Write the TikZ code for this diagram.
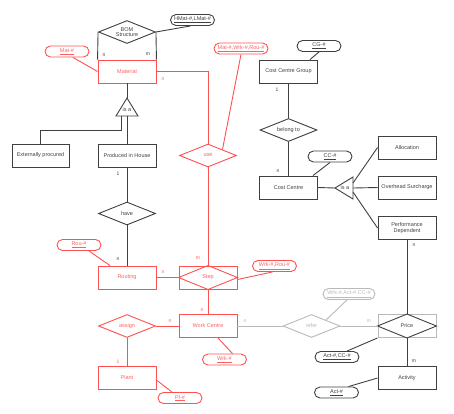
\documentclass[tikz,border=0pt]{standalone}
\usepackage{fontspec}
\setmainfont{Liberation Sans}
\usetikzlibrary{shapes.geometric}
\definecolor{rd}{RGB}{255,80,80}
\definecolor{rdt}{RGB}{255,95,95}
\definecolor{dk}{RGB}{64,64,64}
\definecolor{lg}{RGB}{185,185,185}
\begin{document}
\begin{tikzpicture}[x=1pt,y=-1pt,
  font=\fontsize{5.5}{6.5}\selectfont,
  ent/.style={draw, rectangle, minimum width=58pt, minimum height=23pt, inner sep=1pt, align=center, line width=0.9pt},
  rel/.style={draw, diamond, aspect=2.5, minimum width=57pt, minimum height=23pt, inner sep=0pt, align=center, line width=0.9pt},
  attr/.style={draw, rectangle, rounded corners=5.5pt, minimum width=44pt, minimum height=11pt, inner sep=1pt, line width=0.9pt},
  lbl/.style={font=\fontsize{5}{6}\selectfont, inner sep=0pt},
  cB/.style={draw=dk, text=dk},
  cR/.style={draw=rd, text=rdt},
  cG/.style={draw=lg, text=lg},
  con/.style={line width=0.9pt},
]
\useasboundingbox (0,0) rectangle (454,413);

% ---------- left (material) part ----------
\node[ent,cR] (mat) at (127,71.5) {Material};
\node[rel,cB] (bom) at (127,32) {BOM\\[-1pt]Structure};
\node[attr,cB] (hmat) at (192.5,20) {\underline{HMat-\#,LMat-\#}};
\node[attr,cR] (matid) at (67,51.5) {\underline{Mat-\#}};
\node[attr,cR,minimum width=54pt] (mwr) at (241,48.5) {\underline{Mat-\#,Wrk-\#,Rou-\#}};

\draw[con,dk] (bom.west) -- (mat.north west);
\draw[con,dk] (bom.east) -- (mat.north east);
\draw[con,dk] (bom.east) -- ([xshift=-2pt]hmat.south);
\node[lbl,text=dk] (lbn1) at (104,55) {n};
\node[lbl,text=dk] (lbm1) at (148,54) {m};
\draw[con,rd] ([xshift=6pt]matid.south) -- (mat.west);

% is a (material)
\coordinate (isa1) at (127,98);
\coordinate (isa1b) at (127,116);
\coordinate (isa1c) at (121,116);
\draw[con,dk] (isa1) -- (138,116) -- (116,116) -- cycle;
\node[text=dk,inner sep=0pt] (isa1t) at (127,110) {is a};
\draw[con,dk] (mat.south) -- (isa1);

\node[ent,cB,minimum width=57pt] (ext) at (40.5,155.5) {Externally procured};
\node[ent,cB] (pih) at (127,155.5) {Produced in House};
\draw[con,dk] (isa1b) -- (pih.north);
\draw[con,dk] (isa1c) -- (121,130) -| (ext.north);
\node[lbl,text=dk] (lb1a) at (118,174) {1};

\node[rel,cB] (have) at (127,213.5) {have};
\draw[con,dk] (pih.south) -- (have.north);

\node[ent,cR] (rout) at (127,277.5) {Routing};
\draw[con,dk] (have.south) -- (rout.north);
\node[lbl,text=dk] (lbn2) at (118,259) {n};
\node[attr,cR] (rou) at (79,245) {\underline{Rou-\#}};
\draw[con,rd] ([xshift=10pt]rou.south) -- ([xshift=-17pt]rout.north);

% use
\node[rel,cR] (use) at (208,155.5) {use};
\draw[con,rd] (mat.east) -| (use.north);
\node[lbl,text=rdt] (lbn3) at (163,79) {n};
\draw[con,rd] (mwr.south) -- (use.north east);

% step
\node[ent,cR,minimum width=58pt] (step) at (208,277.5) {Step};
\draw[con,rd] (step.north) -- (step.east) -- (step.south) -- (step.west) -- cycle;
\draw[con,rd] (use.south) -- (step.north);
\node[lbl,text=rdt] (lbm2) at (198,258) {m};
\draw[con,rd] (rout.east) -- (step.west);
\node[lbl,text=rdt] (lbn4) at (163,272) {n};
\node[attr,cR] (wr) at (274.5,266) {\underline{Wrk-\#,Rou-\#}};
\draw[con,rd] ([yshift=-2pt]step.east) -- ([xshift=-2pt]wr.south);

% work centre
\node[ent,cR] (wc) at (208,326) {Work Centre};
\draw[con,rd] (step.south) -- (wc.north);
\node[lbl,text=rdt] (lbn5) at (202,310) {n};
\node[attr,cR] (wrk) at (224.5,359.5) {\underline{Wrk-\#}};
\draw[con,rd] ([xshift=10pt]wc.south) -- ([xshift=8pt]wrk.north);

\node[rel,cR] (assign) at (127,326) {assign};
\draw[con,rd] (assign.east) -- (wc.west);
\node[lbl,text=rdt] (lbn6) at (170,321) {n};
\node[ent,cR] (plant) at (127,378) {Plant};
\draw[con,rd] (assign.south) -- (plant.north);
\node[lbl,text=rdt] (lb1b) at (118,362) {1};
\node[attr,cR] (pl) at (180,398) {\underline{Pl-\#}};
\draw[con,rd] ([yshift=-2pt]plant.east) -- ([xshift=-8pt]pl.north);

% refer
\node[rel,cG] (refer) at (311.5,326) {refer};
\node[ent,draw=lg,text=dk] (price) at (407,326) {Price};
\draw[con,dk] (price.north) -- (price.east) -- (price.south) -- (price.west) -- cycle;
\draw[con,lg] (wc.east) -- (refer.west);
\node[lbl,text=lg] (lbn7) at (245,321) {n};
\draw[con,lg] (refer.east) -- (price.west);
\node[lbl,text=lg] (lbm3) at (369,321) {m};
\node[attr,cG,minimum width=52pt] (wac) at (349,294) {\underline{Wrk-\#,Act-\#,CC-\#}};
\draw[con,lg] (refer.north east) -- ([xshift=-2pt]wac.south);

% ---------- right (cost centre) part ----------
\node[ent,cB] (ccg) at (288.5,71.5) {Cost Centre Group};
\node[attr,cB] (cg) at (319,46) {\underline{CG-\#}};
\draw[con,dk] ([xshift=21.5pt]ccg.north) -- (cg.south);
\node[lbl,text=dk] (lb1c) at (277,90) {1};
\node[rel,cB] (belong) at (288.5,130) {belong to};
\draw[con,dk] (ccg.south) -- (belong.north);
\node[ent,cB] (cc) at (288.5,187.5) {Cost Centre};
\draw[con,dk] (belong.south) -- (cc.north);
\node[lbl,text=dk] (lbn8) at (278,171) {n};
\node[attr,cB] (ccid) at (330,156.5) {\underline{CC-\#}};
\draw[con,dk] ([xshift=24.5pt]cc.north) -- (ccid.south);

\coordinate (isa2) at (335,188);
\coordinate (isa2a) at (353,183);
\coordinate (isa2b) at (353,188);
\coordinate (isa2c) at (353,192);
\draw[con,dk] (isa2) -- (353,177) -- (353,199) -- cycle;
\node[text=dk,inner sep=0pt] (isa2t) at (345,188) {is a};
\draw[con,dk] (cc.east) -- (isa2);

\node[ent,cB] (alloc) at (407,147.5) {Allocation};
\node[ent,cB] (oh) at (407,187.5) {Overhead Surcharge};
\node[ent,cB] (pd) at (407,228) {Performance\\[-0.5pt]Dependent};
\draw[con,dk] (isa2a) -- (alloc.west);
\draw[con,dk] (isa2b) -- (oh.west);
\draw[con,dk] (isa2c) -- (pd.west);

\draw[con,dk] (pd.south) -- (price.north);
\node[lbl,text=dk] (lbn9) at (414,245) {n};
\node[attr,cB] (acc) at (337,357) {\underline{Act-\#,CC-\#}};
\draw[con,dk] (price.south west) -- ([xshift=10pt]acc.north);
\node[ent,cB] (act) at (407,378) {Activity};
\draw[con,dk] (price.south) -- (act.north);
\node[lbl,text=dk] (lbm4) at (414,361) {m};
\node[attr,cB] (actid) at (336.5,392.5) {\underline{Act-\#}};
\draw[con,dk] (act.west) -- ([xshift=12pt]actid.north);
\end{tikzpicture}
\end{document}
